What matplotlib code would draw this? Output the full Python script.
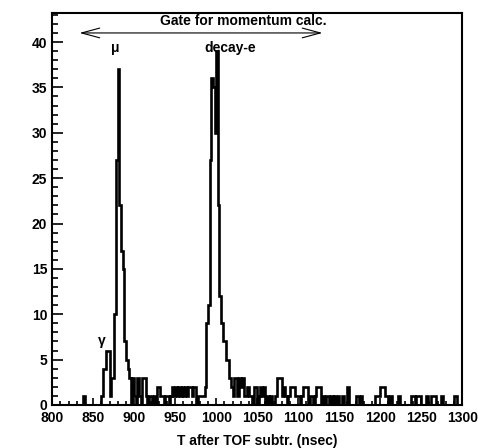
import numpy as np
import matplotlib.pyplot as plt
from matplotlib.ticker import MultipleLocator

# bin left edges (nsec) with nonzero counts, 2 nsec bins from 800 to 1300
bin_starts = [838,
              860, 862, 864, 866, 868, 870, 872, 874, 876, 878, 880, 882, 884, 886, 888,
              890, 892, 894, 898, 900, 904, 906, 910, 912, 914, 918, 920,
              924, 928, 930, 932, 934, 938, 940, 944, 946, 948, 950, 952, 954, 956,
              958, 960, 962, 964, 966, 968, 970, 972, 974, 978, 980, 982, 984,
              986, 988, 990, 992, 994, 996, 998, 1000, 1002, 1004, 1006, 1008,
              1010, 1012, 1014, 1016, 1018, 1020, 1022, 1024, 1026, 1028, 1030, 1032,
              1034, 1036, 1038, 1040, 1042, 1046, 1048, 1052, 1054, 1056, 1058, 1062,
              1066, 1072, 1074, 1076, 1078, 1080, 1082, 1084, 1088, 1090, 1092, 1094,
              1096, 1098, 1100, 1104, 1106, 1108, 1110, 1114, 1116, 1120, 1122, 1124,
              1126, 1130, 1134, 1136, 1140, 1144, 1148, 1154, 1160, 1170, 1172, 1176,
              1194, 1196, 1198, 1200, 1202, 1204, 1206, 1208, 1212, 1222, 1238, 1240,
              1244, 1246, 1248, 1256, 1262, 1264, 1266, 1274, 1290, 1292]
bin_counts = [1,
              1, 4, 4, 6, 6, 1, 3, 3, 10, 27, 37, 22, 17, 15, 7,
              5, 4, 3, 3, 1, 3, 1, 3, 3, 1, 1, 1,
              1, 2, 2, 1, 1, 1, 1, 1, 2, 1, 2, 1, 2, 1, 2,
              1, 2, 1, 2, 2, 1, 2, 2, 1, 1, 1, 1, 2,
              9, 11, 27, 36, 35, 30, 39, 22, 12, 9, 7, 7,
              5, 5, 3, 2, 1, 3, 3, 1, 3, 2, 3, 1,
              1, 2, 1, 1, 2, 2, 1, 2, 1, 2, 1, 1,
              1, 3, 3, 3, 1, 2, 1, 1, 2, 2, 2, 1,
              1, 1, 1, 2, 2, 2, 1, 1, 1, 2, 2, 2,
              1, 1, 1, 1, 1, 1, 1, 2, 1, 1, 1, 1,
              1, 1, 2, 2, 2, 1, 1, 1, 1, 1, 1, 1,
              1, 1, 1, 1, 1, 1, 1, 1, 1, 1]

edges = np.arange(800, 1302, 2)
counts = np.zeros(len(edges) - 1)
for t, c in zip(bin_starts, bin_counts):
    counts[(t - 800) // 2] = c

plt.rcParams['font.family'] = ['Liberation Sans', 'DejaVu Sans']
plt.rcParams['font.weight'] = 'bold'

fig = plt.figure(figsize=(4.78, 4.48), dpi=100)
ax = fig.add_axes([0.109, 0.096, 0.858, 0.875])

ax.stairs(counts, edges, color='black', linewidth=1.9)

ax.set_xlim(800, 1300)
ax.set_ylim(0, 43.2)
ax.xaxis.set_major_locator(MultipleLocator(50))
ax.xaxis.set_minor_locator(MultipleLocator(10))
ax.yaxis.set_major_locator(MultipleLocator(5))
ax.yaxis.set_minor_locator(MultipleLocator(1))
ax.tick_params(which='both', direction='in', top=False, right=False, width=1.2, labelsize=10)
ax.tick_params(which='major', length=8)
ax.tick_params(which='minor', length=4)
ax.tick_params(axis='x', which='major', length=5, pad=4)
ax.tick_params(axis='x', which='minor', length=3)
for lab in ax.get_xticklabels() + ax.get_yticklabels():
    lab.set_fontweight('bold')
for sp in ax.spines.values():
    sp.set_linewidth(1.5)

ax.set_xlabel('T after TOF subtr. (nsec)', fontsize=10, fontweight='bold', labelpad=7)

# gate arrow and labels
ax.annotate('', xy=(830, 41), xytext=(1133, 41),
            arrowprops=dict(arrowstyle='<->,head_length=1.3,head_width=0.35', color='black', lw=0.8))
ax.text(1033, 42.3, 'Gate for momentum calc.', ha='center', va='center', fontsize=10, fontweight='bold')
ax.text(877, 39.3, 'μ', ha='center', va='center', fontsize=10, fontweight='bold')
ax.text(1017, 39.3, 'decay-e', ha='center', va='center', fontsize=10, fontweight='bold')
ax.text(861, 7.0, 'γ', ha='center', va='center', fontsize=10, fontweight='bold')

fig.savefig('out.png', dpi=100)
